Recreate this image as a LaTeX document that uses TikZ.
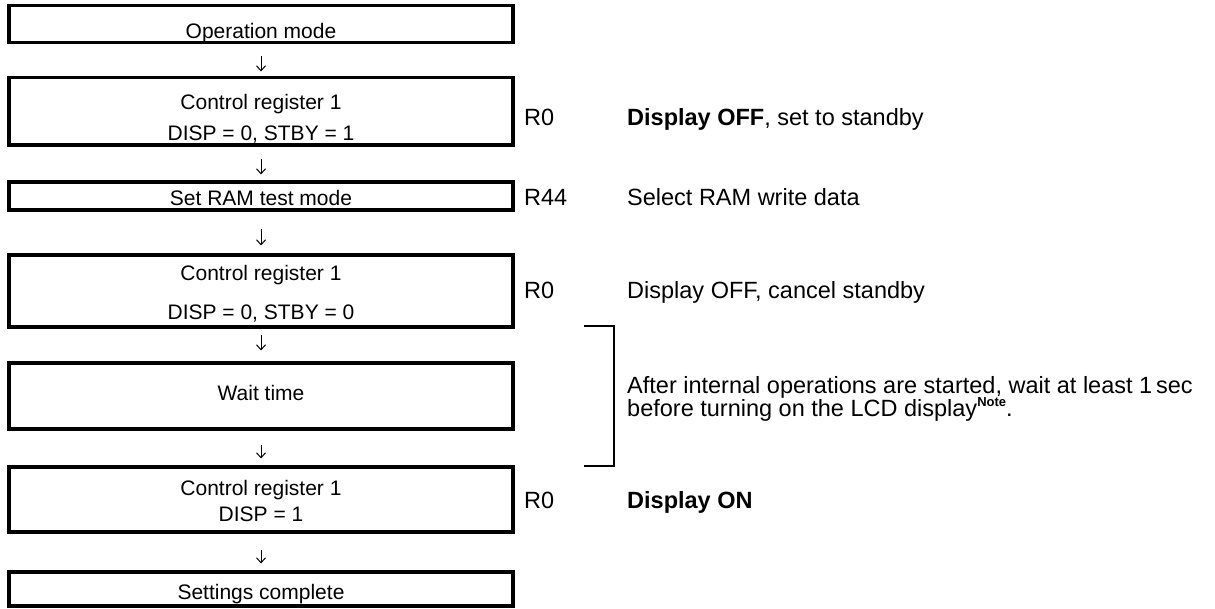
\documentclass[tikz,border=0pt]{standalone}
\usepackage{fontspec}
\setmainfont{Liberation Sans}
\usetikzlibrary{arrows.meta}
\begin{document}
\begin{tikzpicture}[x=1pt,y=-1pt,
  boxst/.style={draw, line width=3.5pt, outer sep=0pt, inner sep=0pt, minimum width=504pt},
  btext/.style={anchor=base, inner sep=0pt, font=\fontsize{21}{25}\selectfont},
  rtext/.style={anchor=base west, inner sep=0pt, font=\fontsize{23.5}{28}\selectfont},
  arr/.style={-{Straight Barb[length=5pt,width=9pt]}, line width=1pt},
  brk/.style={line width=1.5pt}]
\useasboundingbox (0,0) rectangle (1215,609);
% boxes
\node[boxst, minimum height=37pt]   (b1) at (261,24) {};
\node[boxst, minimum height=67.5pt] (b2) at (261,111.25) {};
\node[boxst, minimum height=28pt]   (b3) at (261,196) {};
\node[boxst, minimum height=72pt]   (b4) at (261,291) {};
\node[boxst, minimum height=66pt]   (b5) at (261,396) {};
\node[boxst, minimum height=65pt]   (b6) at (261,499.5) {};
\node[boxst, minimum height=34pt]   (b7) at (261,589) {};
% box texts
\node[btext] (t1)  at (261,39)  {Operation mode};
\node[btext] (t2a) at (261,110) {Control register 1};
\node[btext] (t2b) at (261,141) {DISP = 0, STBY = 1};
\node[btext] (t3)  at (261,206) {Set RAM test mode};
\node[btext] (t4a) at (261,281) {Control register 1};
\node[btext] (t4b) at (261,320) {DISP = 0, STBY = 0};
\node[btext] (t5)  at (261,400) {Wait time};
\node[btext] (t6a) at (261,495) {Control register 1};
\node[btext] (t6b) at (261,521) {DISP = 1};
\node[btext] (t7)  at (261,599) {Settings complete};
% arrows
\draw[arr, shorten <=14pt, shorten >=6pt] (b1.south) -- (b2.north);
\draw[arr, shorten <=14.5pt, shorten >=7.5pt] (b2.south) -- (b3.north);
\draw[arr, shorten <=19.5pt, shorten >=9.5pt] (b3.south) -- (b4.north);
\draw[arr, shorten <=8.5pt, shorten >=12.5pt] (b4.south) -- (b5.north);
\draw[arr, shorten <=15.5pt, shorten >=8.5pt] (b5.south) -- (b6.north);
\draw[arr, shorten <=17.5pt, shorten >=8.5pt] (b6.south) -- (b7.north);
% right side
\node[rtext] (r1) at (524,126) {R0};
\node[rtext] (d1) at (627,126) {\textbf{Display OFF}, set to standby};
\node[rtext] (r2) at (524,206) {R44};
\node[rtext] (d2) at (627,206) {Select RAM write data};
\node[rtext] (r3) at (524,299) {R0};
\node[rtext] (d3) at (627,299) {Display OFF, cancel standby};
\node[rtext] (d4a) at (627,393) {After internal operations are started, wait at least 1\,sec};
\node[rtext] (d4b) at (627,416) {before turning on the LCD display\raisebox{9.5pt}{\fontsize{13}{13}\selectfont\bfseries Note}.};
\node[rtext] (r4) at (524,508) {R0};
\node[rtext] (d5) at (627,508) {\textbf{Display ON}};
% bracket
\coordinate (k1) at (584,326);
\coordinate (k2) at (614,326);
\coordinate (k3) at (614,466);
\coordinate (k4) at (584,466);
\draw[brk] (k1) -- (k2) -- (k3) -- (k4);
\end{tikzpicture}
\end{document}
